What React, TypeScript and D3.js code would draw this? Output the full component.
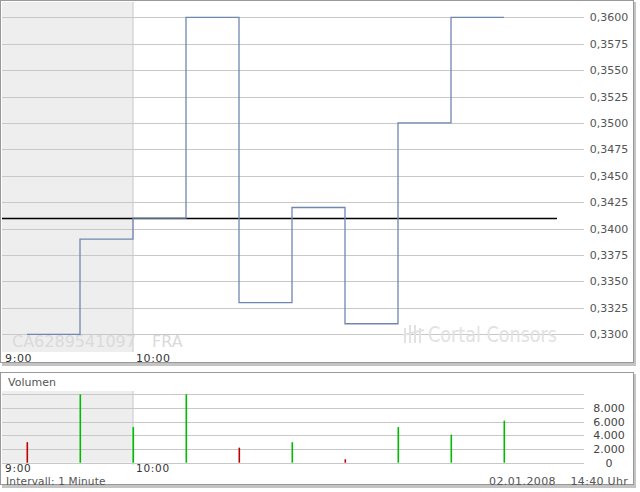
import React from 'react';
import * as d3 from 'd3';

// trades, one per slot (compressed intraday axis)
const prices = [0.33, 0.339, 0.341, 0.36, 0.333, 0.342, 0.331, 0.35, 0.36, 0.36];
const volumes = [3000, 10000, 5200, 10000, 2200, 3000, 500, 5200, 4100, 6150];
const prevClose = 0.341;

const priceTicks = [0.33, 0.3325, 0.335, 0.3375, 0.34, 0.3425, 0.345, 0.3475, 0.35, 0.3525, 0.355, 0.3575, 0.36];
const volTicks = [0, 2000, 4000, 6000, 8000, 10000];
const timeLabels = ['9:00', '10:00'];
const timeSlots = [-0.47, 2];

const font = '"DejaVu Sans", Verdana, sans-serif';

export default function App() {
  const plotLeft = 2;
  const plotRight = 584;

  const x = d3.scaleLinear().domain([0, 9]).range([27, 504]);
  const y = d3.scaleLinear().domain([0.33, 0.36]).range([334.3, 17.3]);
  const yv = d3.scaleLinear().domain([0, 10000]).range([462.7, 394.3]);

  const line = d3
    .line<number>()
    .x((_, i) => x(i))
    .y((d) => y(d))
    .curve(d3.curveStepAfter);

  const fmtPrice = (v: number) => v.toFixed(4).replace('.', ',');
  const fmtVol = (v: number) => d3.format(',')(v).replace(/,/g, '.');

  const shadeRight = x(timeSlots[1]);

  return (
    <svg width={640} height={492} style={{ position: 'absolute', left: 0, top: 0 }} fontFamily={font}>
      <rect width={640} height={492} fill="#fff" />

      {/* main panel */}
      <rect x={2} y={2} width={634} height={364} fill="#c4c4c4" />
      <rect x={0.5} y={0.5} width={633} height={362} fill="#fff" stroke="#999" />
      <rect x={plotLeft} y={2} width={shadeRight - plotLeft} height={350} fill="#eeeeee" />
      <line x1={shadeRight} x2={shadeRight} y1={2} y2={352} stroke="#c8c8c8" />
      {priceTicks.map((t) => (
        <g key={t}>
          <line x1={plotLeft} x2={plotRight} y1={Math.round(y(t)) + 0.5} y2={Math.round(y(t)) + 0.5} stroke="#c8c8c8" />
          <text x={609} y={y(t) + 4} textAnchor="middle" fontSize={11} fill="#555">
            {fmtPrice(t)}
          </text>
        </g>
      ))}

      {/* watermarks */}
      <text x={12} y={347} fontSize={16} fill="#dadada">CA6289541097</text>
      <text x={152} y={347} fontSize={16} fill="#dadada">FRA</text>
      <g stroke="#e2e2e2" strokeWidth={2}>
        <line x1={405} x2={405} y1={328} y2={343} />
        <line x1={410} x2={410} y1={325} y2={343} />
        <line x1={415} x2={415} y1={325} y2={343} />
        <line x1={420} x2={420} y1={328} y2={343} />
        <line x1={403} x2={424} y1={335} y2={330} />
      </g>
      <text x={428} y={342} fontSize={21} fill="#e2e2e2" textLength={129} lengthAdjust="spacingAndGlyphs">
        Cortal Consors
      </text>

      <line x1={plotLeft} x2={x(10)} y1={Math.round(y(prevClose)) + 0.5} y2={Math.round(y(prevClose)) + 0.5} stroke="#000" strokeWidth={1.3} />
      <path d={line(prices) ?? ''} fill="none" stroke="#7187b0" strokeWidth={1.3} />

      {timeLabels.map((l, i) => (
        <text key={l} x={x(timeSlots[i]) + 3} y={362} fontSize={11} fill="#333" letterSpacing={0.6}>
          {l}
        </text>
      ))}

      {/* volume panel */}
      <rect x={2} y={374} width={634} height={114} fill="#c4c4c4" />
      <rect x={0.5} y={372.5} width={633} height={112} fill="#fff" stroke="#999" />
      <text x={8} y={386} fontSize={11} fill="#555">Volumen</text>
      <rect x={plotLeft} y={391} width={shadeRight - plotLeft} height={yv(0) - 391} fill="#eeeeee" />
      <line x1={shadeRight} x2={shadeRight} y1={391} y2={465} stroke="#c8c8c8" />
      {volTicks.map((t) => (
        <g key={t}>
          <line x1={plotLeft} x2={plotRight} y1={Math.round(yv(t)) + 0.5} y2={Math.round(yv(t)) + 0.5} stroke="#c8c8c8" />
          {t < 10000 && (
            <text x={609} y={yv(t) + 4} textAnchor="middle" fontSize={11} fill="#444">
              {fmtVol(t)}
            </text>
          )}
        </g>
      ))}
      {volumes.map((v, i) => {
        const prev = i === 0 ? prevClose : prices[i - 1];
        const up = prices[i] >= prev;
        return (
          <rect
            key={i}
            x={Math.round(x(i)) - 0.5}
            y={yv(v)}
            width={1.6}
            height={yv(0) - yv(v)}
            fill={up ? '#00bb00' : '#c00000'}
          />
        );
      })}
      {timeLabels.map((l, i) => (
        <text key={l} x={x(timeSlots[i]) + 3} y={472} fontSize={10.5} fill="#333" letterSpacing={0.7}>
          {l}
        </text>
      ))}
      <text x={6} y={484.5} fontSize={10.5} fill="#555" letterSpacing={0.2}>Intervall: 1 Minute</text>
      <text x={556} y={484.5} textAnchor="end" fontSize={11} fill="#555" letterSpacing={0.4}>02.01.2008</text>
      <text x={628} y={484.5} textAnchor="end" fontSize={11} fill="#555" letterSpacing={0.3}>14:40 Uhr</text>
    </svg>
  );
}
